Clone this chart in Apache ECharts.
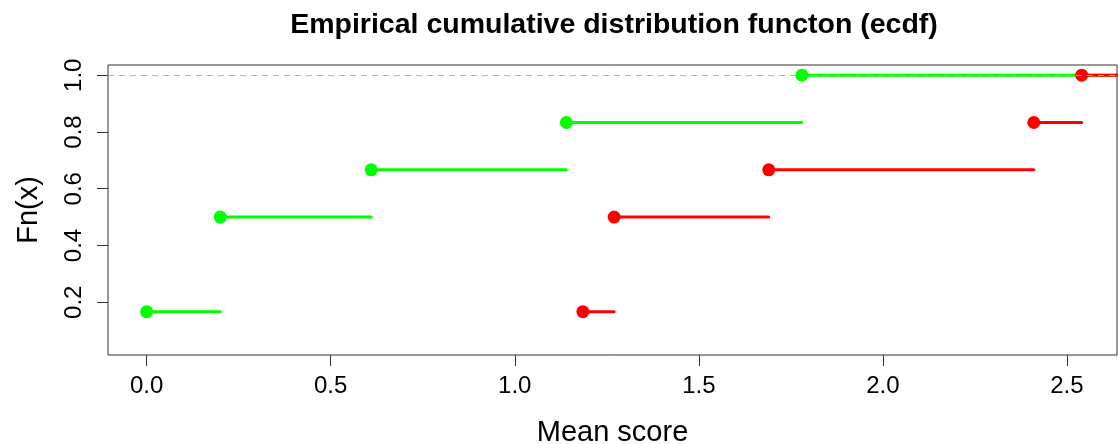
<!DOCTYPE html>
<html>
<head>
<meta charset="utf-8">
<script src="https://cdn.jsdelivr.net/npm/echarts@6/dist/echarts.min.js"></script>
<style>
  html, body { margin: 0; padding: 0; background: #fff; }
  #chart { width: 1118px; height: 444px; }
</style>
</head>
<body>
<div id="chart"></div>
<script>
// ---- data ----
var greenX = [0, 0.2, 0.61, 1.14, 1.78];
var greenY = [1/6, 0.5, 2/3, 5/6, 1];
var redX = [1.185, 1.27, 1.69, 2.41, 2.54];
var redY = [1/6, 0.5, 2/3, 5/6, 1];
var xTicks = [0, 0.5, 1.0, 1.5, 2.0, 2.5];
var yTicks = [0.2, 0.4, 0.6, 0.8, 1.0];
var refLines = [0, 1];

var X_MIN = -0.105, X_MAX = 2.636;
var Y_MIN = 0.014, Y_MAX = 1.036;
var FONT = '"Liberation Sans", Arial, sans-serif';

function stepSeries(xs, ys, color) {
  var out = [];
  for (var i = 0; i < xs.length; i++) {
    var xEnd = (i + 1 < xs.length) ? xs[i + 1] : X_MAX + 0.5;
    out.push({
      type: 'line',
      data: [[xs[i], ys[i]], [xEnd, ys[i]]],
      symbol: 'none',
      lineStyle: { color: color, width: 3, cap: 'round' },
      silent: true,
      animation: false,
      z: 3
    });
  }
  out.push({
    type: 'scatter',
    data: xs.map(function (x, i) { return [x, ys[i]]; }),
    symbol: 'circle',
    symbolSize: 13,
    itemStyle: { color: color, opacity: 1 },
    silent: true,
    animation: false,
    z: 4
  });
  return out;
}

var series = [].concat(
  stepSeries(greenX, greenY, '#00ff00'),
  stepSeries(redX, redY, '#ff0000'),
  [{
    type: 'line',
    data: [],
    markLine: {
      silent: true,
      symbol: 'none',
      label: { show: false },
      lineStyle: { color: '#b3b3b3', type: [6, 5], width: 1 },
      data: refLines.map(function (v) { return { yAxis: v }; }),
      animation: false
    },
    z: 10
  }]
);

var chart = echarts.init(document.getElementById('chart'));
chart.setOption({
  animation: false,
  backgroundColor: '#fff',
  title: {
    text: 'Empirical cumulative distribution functon (ecdf)',
    left: 609,
    textAlign: 'center',
    top: 6,
    textStyle: { fontFamily: FONT, fontWeight: 'bold', fontSize: 28.5, color: '#000' }
  },
  grid: {
    left: 108, right: 1, top: 65, bottom: 89,
    containLabel: false,
    outerBoundsMode: 'none',
    show: true, borderColor: '#333', borderWidth: 1, backgroundColor: 'transparent'
  },
  xAxis: {
    type: 'value',
    min: X_MIN, max: X_MAX,
    name: 'Mean score',
    nameLocation: 'middle',
    nameGap: 63,
    nameTextStyle: { fontFamily: FONT, fontSize: 29, color: '#000' },
    axisLine: { show: false, onZero: false },
    splitLine: { show: false },
    axisTick: { show: true, length: 11, customValues: xTicks, lineStyle: { color: '#333' } },
    axisLabel: {
      customValues: xTicks, margin: 19,
      fontFamily: FONT, fontSize: 24, color: '#000',
      formatter: function (v) { return v.toFixed(1); }
    }
  },
  yAxis: {
    type: 'value',
    min: Y_MIN, max: Y_MAX,
    name: 'Fn(x)',
    nameLocation: 'middle',
    nameGap: 65,
    nameTextStyle: { fontFamily: FONT, fontSize: 29, color: '#000' },
    axisLine: { show: false, onZero: false },
    splitLine: { show: false },
    axisTick: { show: true, length: 11, customValues: yTicks, lineStyle: { color: '#333' } },
    axisLabel: {
      customValues: yTicks, margin: 22, rotate: 90,
      fontFamily: FONT, fontSize: 24, color: '#000',
      formatter: function (v) { return v.toFixed(1); }
    }
  },
  series: series
});
</script>
</body>
</html>
